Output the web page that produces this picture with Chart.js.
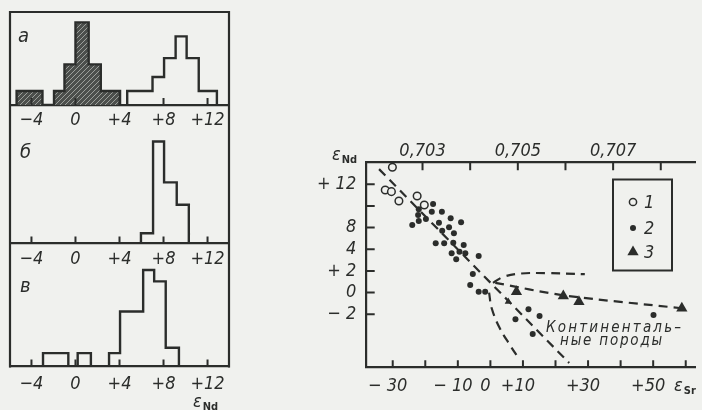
<!DOCTYPE html>
<html><head><meta charset="utf-8">
<script src="https://cdn.jsdelivr.net/npm/chart.js@4.4.1/dist/chart.umd.min.js"></script>
<style>
html,body{margin:0;padding:0;background:#f0f1ee;}
body{width:702px;height:410px;position:relative;overflow:hidden;color:#2b2d2b;
 font-family:'Liberation Sans Narrow','DejaVu Sans Condensed','Liberation Sans',sans-serif;}
canvas{position:absolute;}
.t{position:absolute;font-style:italic;white-space:nowrap;line-height:1;}
.t sub{font-style:normal;font-weight:bold;font-size:11px;vertical-align:-3px;margin-left:1px;}
</style></head><body>
<canvas id="cA" width="240" height="131" style="left:0;top:0"></canvas>
<canvas id="cB" width="240" height="136" style="left:0;top:131px"></canvas>
<canvas id="cV" width="240" height="143" style="left:0;top:267px"></canvas>
<canvas id="cS" width="402" height="280" style="left:300px;top:130px"></canvas>

<div class="t" style="left:18px;top:25px;font-size:20px">а</div>
<div class="t" style="left:20px;top:141px;font-size:20px">б</div>
<div class="t" style="left:20px;top:275px;font-size:20px">в</div>
<div class="t" style="left:193px;top:392px;font-size:18px">ε<sub>Nd</sub></div>
<div class="t" style="left:332px;top:145px;font-size:18px">ε<sub>Nd</sub></div>
<div class="t" style="left:674px;top:376px;font-size:18px">ε<sub>Sr</sub></div>
<div class="t" style="left:546px;top:320px;font-size:15px;letter-spacing:2.2px">Континенталь–</div>
<div class="t" style="left:560px;top:333px;font-size:15px;letter-spacing:1.8px">ные породы</div>

<script>
// ---------- data: left histograms (ε_Nd) ----------
const eNdHistTicks = [-4, 0, 4, 8, 12];
const eNdHistTickLabels = ['−4', '0', '+4', '+8', '+12'];

// panel а
const aHatchedEdges = [-5.35, -3.0, -1.95, -1.0, 0, 1.2, 2.3, 4.05];
const aHatchedCounts = [1, 0, 1, 2.9, 5.9, 2.9, 1];
const aOpenEdges = [4.7, 7.0, 8.05, 9.1, 10.1, 11.2, 12.85];
const aOpenCounts = [1, 2, 3.35, 4.9, 3.35, 1];
// panel б
const bEdges = [5.95, 7.05, 8.05, 9.2, 10.3];
const bCounts = [1, 10, 6, 3.8];
// panel в
const vEdges = [-2.95, -0.65, 0.2, 1.4, 3.05, 4.05, 6.15, 7.15, 8.2, 9.4];
const vCounts = [1, 0, 1, 0, 1, 4.1, 7.2, 6.35, 1.4];

// ---------- data: ε_Nd vs ε_Sr diagram ----------
const eSrTicks = [-30, -20, -10, 0, 10, 20, 30, 40, 50, 60];
const eSrTickLabels = ['− 30', '', '− 10', '0', '+10', '', '+30', '', '+50', ''];
const srRatioTicks = [0.703, 0.704, 0.705, 0.706, 0.707, 0.708];
const srRatioTickLabels = ['0,703', '', '0,705', '', '0,707', ''];
const eNdTicks = [-2, 0, 2, 4, 6, 8, 10];
const eNdTickLabels = ['− 2', '0', '+ 2', '4', '8', '', '+ 12'];
const legendLabels = ['1', '2', '3'];

const g1Sr = [-30.1, -32.3, -30.4, -28.1, -22.5, -20.3];
const g1Nd = [11.57, 9.47, 9.32, 8.46, 8.92, 8.09];

const g2Sr = [-24.0, -22.0, -22.2, -22.0, -19.8, -18.0, -17.6, -14.9, -12.2, -9.0, -15.8, -12.7, -11.2, -14.8,
              -16.8, -14.2, -11.4, -8.2, -11.9, -9.5, -7.7, -10.5, -3.6, -5.4, -6.2, -3.6, -1.6,
              7.7, 11.7, 15.1, 13.0, 50.1];
const g2Nd = [6.24, 7.69, 7.17, 6.61, 6.80, 7.47, 8.18, 7.47, 6.86, 6.49, 6.45, 6.03, 5.48, 5.72,
              4.55, 4.55, 4.61, 4.40, 3.63, 3.78, 3.63, 3.07, 3.38, 1.72, 0.70, 0.08, 0.08,
              -2.47, -1.54, -2.16, -3.82, -2.07];

const g3Sr = [5.5, 8.0, 22.4, 27.2, 58.8];
const g3Nd = [-0.84, 0.08, -0.31, -0.84, -1.45];

const trendSr = [-34.2, 24.2];
const trendNd = [11.4, -6.5];
const mixSr = [1.5, 22.4, 58.8];
const mixNd = [0.9, -0.25, -1.45];
const upperSr = [0.8, 4, 9, 17, 29];
const upperNd = [0.9, 1.45, 1.75, 1.8, 1.7];
const lowerSr = [-0.4, 0.4, 2.9, 6.0, 9.0];
const lowerNd = [0.0, -1.45, -3.3, -4.84, -6.22];

// ---------- styling ----------
const INK = '#2b2d2b', BG = '#f0f1ee';
const FONT = "'Liberation Sans Narrow','DejaVu Sans Condensed','Liberation Sans',sans-serif";
Chart.defaults.font.family = FONT;
Chart.defaults.color = INK;

function steps(edges, counts) {
  const p = [{x: edges[0], y: 0}];
  counts.forEach((c, i) => p.push({x: edges[i], y: c}));
  p.push({x: edges[edges.length - 1], y: 0});
  return p;
}
function pts(xs, ys) { return xs.map((x, i) => ({x, y: ys[i]})); }
function fixedTicks(values) { return s => { s.ticks = values.map(v => ({value: v})); }; }

function hatch() {
  const c = document.createElement('canvas'); c.width = 5; c.height = 5;
  const g = c.getContext('2d');
  g.fillStyle = '#4c4f4c'; g.fillRect(0, 0, 5, 5);
  g.strokeStyle = '#9c9f9b'; g.lineWidth = 1;
  g.beginPath(); g.moveTo(-1, 6); g.lineTo(6, -1); g.moveTo(-1, 1); g.lineTo(1, -1); g.moveTo(4, 6); g.lineTo(6, 4); g.stroke();
  return g.createPattern(c, 'repeat');
}

function makeFrame(o) {
  return { id: 'frame', afterDraw(chart) {
    const {ctx, chartArea: ca, height} = chart;
    ctx.save(); ctx.strokeStyle = INK; ctx.lineWidth = 2.2; ctx.beginPath();
    const y0 = o.top ? ca.top - 1.1 : 0, y1 = o.bottom ? ca.bottom + 1.1 : height;
    ctx.moveTo(ca.left, y0); ctx.lineTo(ca.left, y1);
    ctx.moveTo(ca.right, y0); ctx.lineTo(ca.right, y1);
    if (o.top) { ctx.moveTo(ca.left - 1.1, ca.top); ctx.lineTo(ca.right + 1.1, ca.top); }
    ctx.stroke(); ctx.restore();
  }};
}
function makeInnerTicks(lens) {
  return { id: 'innerTicks', afterDraw(chart) {
    const ctx = chart.ctx, ca = chart.chartArea;
    ctx.save(); ctx.strokeStyle = INK; ctx.lineWidth = 2; ctx.beginPath();
    Object.keys(lens).forEach(id => {
      const s = chart.scales[id], len = lens[id];
      s.ticks.forEach(t => {
        const p = s.getPixelForValue(t.value);
        if (s.position === 'bottom') { ctx.moveTo(p, ca.bottom); ctx.lineTo(p, ca.bottom - len); }
        else if (s.position === 'top') { ctx.moveTo(p, ca.top); ctx.lineTo(p, ca.top + len); }
        else { ctx.moveTo(ca.left, p); ctx.lineTo(ca.left + len, p); }
      });
    });
    ctx.stroke(); ctx.restore();
  }};
}

const HATCH = hatch();
const NOGRID = { display: false, drawTicks: false };
function histDs(edges, counts, filled) {
  return { data: steps(edges, counts), stepped: true, borderColor: INK, borderWidth: 2.4,
           fill: filled ? 'origin' : false, backgroundColor: filled ? HATCH : 'transparent',
           pointRadius: 0, tension: 0 };
}
function histChart(id, datasets, ymax, padTop, axisH, labelPad, frame) {
  return new Chart(document.getElementById(id), {
    type: 'line',
    data: { datasets },
    options: {
      responsive: false, animation: false, events: [],
      layout: { padding: { top: padTop, left: 10, right: 11, bottom: 0 } },
      plugins: { legend: { display: false }, tooltip: { enabled: false } },
      scales: {
        x: { type: 'linear', min: -5.95, max: 13.95,
             grid: NOGRID, border: { display: true, color: INK, width: 2.2 },
             afterBuildTicks: fixedTicks(eNdHistTicks),
             afterFit: s => { s.height = axisH; },
             ticks: { padding: labelPad, maxRotation: 0, autoSkip: false, color: INK,
                      font: { size: 18, style: 'italic' },
                      callback: (v, i) => eNdHistTickLabels[i] } },
        y: { display: false, min: 0, max: ymax }
      }
    },
    plugins: [makeFrame(frame), makeInnerTicks({x: 7})]
  });
}

histChart('cA', [histDs(aHatchedEdges, aHatchedCounts, true), histDs(aOpenEdges, aOpenCounts, false)],
          6.64, 12, 26, 5, {top: true});
histChart('cB', [histDs(bEdges, bCounts, false)], 10.74, 3, 23.5, 4.7, {});
histChart('cV', [histDs(vEdges, vCounts, false)], 7.35, 1, 43.5, 6.7, {bottom: true});

// ---------- scatter ----------
const legendPlugin = { id: 'legendBox', afterDraw(chart) {
  const ctx = chart.ctx;
  ctx.save();
  ctx.strokeStyle = INK; ctx.lineWidth = 2;
  ctx.strokeRect(313, 49.5, 59, 91);
  const ys = [72, 98, 122];
  chart.data.datasets.slice(0, 3).forEach((ds, i) => {
    ctx.fillStyle = ds.backgroundColor; ctx.strokeStyle = INK; ctx.lineWidth = ds.borderWidth || 0.01;
    Chart.helpers.drawPoint(ctx, { pointStyle: ds.pointStyle, radius: i === 2 ? 6.5 : (i === 0 ? 3.6 : 3),
      borderWidth: ds.borderWidth || 0, rotation: 0 }, 333, ys[i]);
    ctx.fillStyle = INK; ctx.font = 'italic 18px ' + FONT; ctx.textBaseline = 'middle'; ctx.textAlign = 'left';
    ctx.fillText(legendLabels[i], 344, ys[i] + 1);
  });
  ctx.restore();
}};

const dash = (xs, ys, tension) => ({ data: pts(xs, ys), showLine: true, pointRadius: 0,
  borderColor: INK, borderWidth: 2.2, borderDash: [9, 6], tension: tension, fill: false });

new Chart(document.getElementById('cS'), {
  type: 'scatter',
  data: { datasets: [
    { data: pts(g1Sr, g1Nd), pointStyle: 'circle', pointRadius: 3.8, borderWidth: 1.5, borderColor: INK, backgroundColor: BG },
    { data: pts(g2Sr, g2Nd), pointStyle: 'circle', pointRadius: 3, borderWidth: 0, borderColor: INK, backgroundColor: INK },
    { data: pts(g3Sr, g3Nd), pointStyle: 'triangle', pointRadius: c => c.dataIndex === 0 ? 4.2 : 6.5, borderWidth: 0, borderColor: INK, backgroundColor: INK },
    dash(trendSr, trendNd, 0),
    dash(mixSr, mixNd, 0.3),
    dash(upperSr, upperNd, 0.4),
    dash(lowerSr, lowerNd, 0.4)
  ]},
  options: {
    responsive: false, animation: false, events: [],
    layout: { padding: { left: 0, top: 0, right: 2, bottom: 0 } },
    plugins: { legend: { display: false }, tooltip: { enabled: false } },
    scales: {
      x: { type: 'linear', position: 'bottom', min: -38.3, max: 63,
           grid: NOGRID, border: { display: true, color: INK, width: 2.2 },
           afterBuildTicks: fixedTicks(eSrTicks), afterFit: s => { s.height = 42.7; },
           ticks: { padding: 7.9, labelOffset: -5, maxRotation: 0, autoSkip: false, color: INK, font: { size: 18, style: 'italic' },
                    callback: (v, i) => eSrTickLabels[i] } },
      x2: { type: 'linear', position: 'top', axis: 'x', display: true, min: 0.7018075, max: 0.7087288,
            grid: NOGRID, border: { display: true, color: INK, width: 2.2 },
            afterBuildTicks: fixedTicks(srRatioTicks), afterFit: s => { s.height = 32.3; },
            ticks: { padding: 0, maxRotation: 0, autoSkip: false, color: INK, font: { size: 18, style: 'italic' },
                     callback: (v, i) => srRatioTickLabels[i] } },
      y: { type: 'linear', position: 'left', min: -6.9, max: 12.03,
           grid: NOGRID, border: { display: true, color: INK, width: 2.2 },
           afterBuildTicks: fixedTicks(eNdTicks), afterFit: s => { s.width = 65.7; },
           ticks: { padding: 9.5, autoSkip: false, color: INK, font: { size: 18, style: 'italic' },
                    callback: (v, i) => eNdTickLabels[i] } }
    }
  },
  plugins: [makeInnerTicks({x: 7, x2: 8, y: 9}), legendPlugin]
});
</script>
</body></html>
